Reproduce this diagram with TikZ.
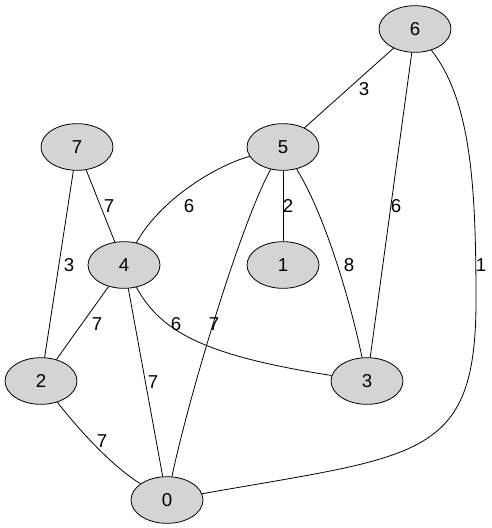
\documentclass[tikz,border=0pt]{standalone}
\usepackage{fontspec}
\setmainfont{Liberation Sans}
\usetikzlibrary{shapes.geometric, positioning}

\begin{document}
\begin{tikzpicture}[x=0.75pt, y=-0.75pt, line width=0.6pt,
    vertex/.style={draw, ellipse, fill=black!17, minimum width=54pt, minimum height=35pt, inner sep=0pt, font=\fontsize{14}{16}\selectfont},
    weight/.style={inner sep=1pt, font=\fontsize{14}{16}\selectfont}]
    \useasboundingbox (0,0) rectangle (492,528);

    % Vertices
    \node [vertex] (n6) at (415,29) {6};
    \node [vertex] (n7) at (77,147) {7};
    \node [vertex] (n5) at (283,147) {5};
    \node [vertex] (n4) at (124,265) {4};
    \node [vertex] (n1) at (283,265) {1};
    \node [vertex] (n2) at (41,381) {2};
    \node [vertex] (n3) at (367,381) {3};
    \node [vertex] (n0) at (167,500) {0};

    % Edges from 6
    \draw (n6) -- (n5) node [weight] at (364,89) {3};
    \draw (n6) -- (n3) node [weight] at (396,206) {6};
    \draw (n6) .. controls (470,100) and (476,180) .. (476,300) .. controls (476,460) and (420,455) .. (n0) node [weight] at (481,265) {1};

    % Edges from 7
    \draw (n7) -- (n4) node [weight] at (109,206) {7};
    \draw (n7) -- (n2) node [weight] at (69,265) {3};

    % Edges from 5
    \draw (n5) .. controls (215,166) and (160,200) .. (n4) node [weight] at (189,206) {6};
    \draw (n5) -- (n1) node [weight] at (288,206) {2};
    \draw (n5) .. controls (325,215) and (350,300) .. (n3) node [weight] at (349,265) {8};
    \draw (n5) .. controls (240,225) and (188,400) .. (n0) node [weight] at (214,324) {7};

    % Edges from 4
    \draw (n4) -- (n2) node [weight] at (97,324) {7};
    \draw (n4) -- (n0) node [weight] at (153,382) {7};
    \draw (n4) .. controls (160,330) and (200,355) .. (n3) node [weight] at (176,324) {6};

    % Edge from 2
    \draw (n2) .. controls (75,425) and (110,465) .. (n0) node [weight] at (102,441) {7};
\end{tikzpicture}
\end{document}
